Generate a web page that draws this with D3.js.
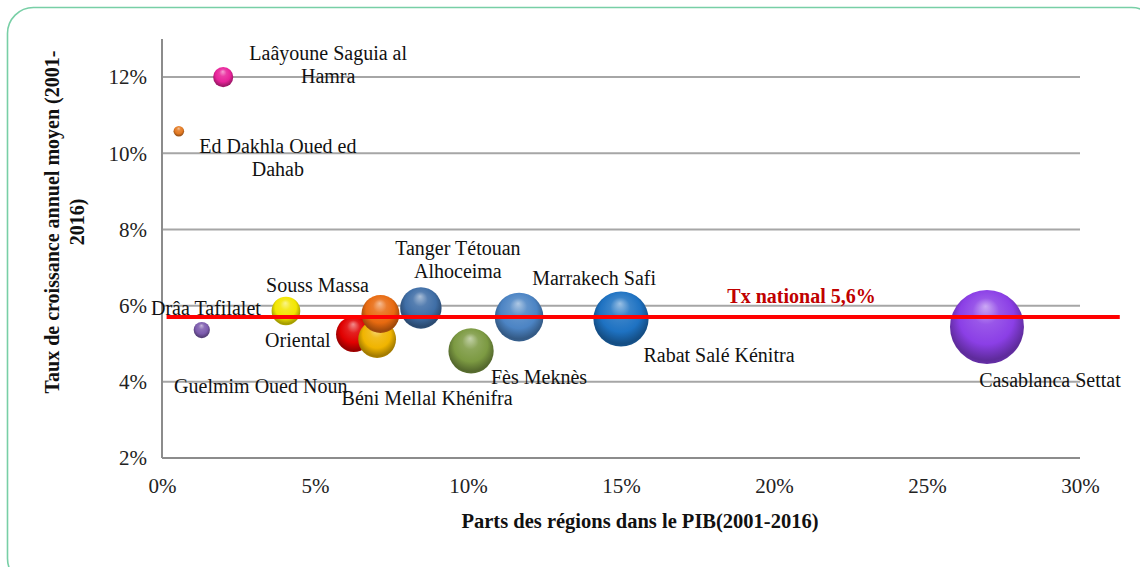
<!DOCTYPE html>
<html lang="fr">
<head>
  <meta charset="UTF-8" />
  <title>Parts des régions dans le PIB et croissance</title>
  <style>
    body {
      margin: 0;
      background: #fff;
    }

    text {
      font-family: 'Liberation Serif', 'DejaVu Serif', serif;
      fill: #111;
    }

    .grid line {
      stroke: #a6a6a6;
      stroke-width: 2px;
    }

    .axis path {
      stroke: #8c8c8c;
      stroke-width: 2px;
    }

    .axis text {
      font-size: 21px;
      fill: #222;
    }

    .region-label {
      font-size: 20px;
    }

    .axis-title {
      font-size: 20px;
      font-weight: bold;
    }
  </style>
  <script src="https://cdn.jsdelivr.net/npm/d3@7"></script>
</head>
<body>
  <svg></svg>

  <script>
    // data (x = part du PIB %, y = taux de croissance %)
    const regions = [
      'Laâyoune Saguia al Hamra',
      'Ed Dakhla Oued ed Dahab',
      'Guelmim Oued Noun',
      'Drâa Tafilalet',
      'Oriental',
      'Béni Mellal Khénifra',
      'Souss Massa',
      'Tanger Tétouan Alhoceima',
      'Fès Meknès',
      'Marrakech Safi',
      'Rabat Salé Kénitra',
      'Casablanca Settat'
    ];
    const parts = [2.0, 0.55, 1.3, 4.05, 6.27, 7.03, 7.14, 8.46, 10.1, 11.67, 15.0, 26.96];
    const growth = [12.0, 10.58, 5.36, 5.86, 5.25, 5.12, 5.78, 5.94, 4.81, 5.7, 5.65, 5.44];
    const colors = [
      '#e8239a', '#e47a22', '#7d5cae', '#f2e600', '#e00000', '#f0b400',
      '#e86a10', '#3f6ea6', '#7c9a42', '#4c84c4', '#1e72c2', '#8b3fe6'
    ];
    const labelLines = [
      ['Laâyoune Saguia al', 'Hamra'],
      ['Ed Dakhla Oued ed', 'Dahab'],
      ['Guelmim Oued Noun'],
      ['Drâa Tafilalet'],
      ['Oriental'],
      ['Béni Mellal Khénifra'],
      ['Souss Massa'],
      ['Tanger Tétouan', 'Alhoceima'],
      ['Fès Meknès'],
      ['Marrakech Safi'],
      ['Rabat Salé Kénitra'],
      ['Casablanca Settat']
    ];
    const xTicks = [0, 5, 10, 15, 20, 25, 30];
    const yTicks = [2, 4, 6, 8, 10, 12];
    const nationalRate = 5.7;
    const nationalLabel = 'Tx national 5,6%';
    const nationalSpan = [0.15, 31.3];

    // label placement (pixels, from bubble centre to first baseline centre)
    const labelOffsets = [
      [105, -17], [99, 22], [59, 63], [-80, 4], [-56, 13], [50, 66],
      [-63, -22], [37, -53], [68, 33], [75, -32], [98, 43], [63, 60]
    ];

    const width = 1140;
    const height = 567;
    const margin = { left: 162, right: 60, top: 39, bottom: 109 };

    const svg = d3.select('svg').attr('width', width).attr('height', height);

    // rounded frame
    svg
      .append('rect')
      .attr('x', 7.5)
      .attr('y', 7.5)
      .attr('width', width + 10)
      .attr('height', height + 10)
      .attr('rx', 26)
      .attr('fill', '#fff')
      .attr('stroke', '#78cfa6')
      .attr('stroke-width', 1.6);

    const x = d3
      .scaleLinear()
      .domain([0, 30])
      .range([margin.left, width - margin.right]);

    const y = d3
      .scaleLinear()
      .domain([2, 13])
      .range([height - margin.bottom, margin.top]);

    const r = d3.scaleSqrt().domain([0, 27]).range([0, 37]);

    // gridlines
    svg
      .append('g')
      .attr('class', 'grid')
      .selectAll('line')
      .data(yTicks.filter((d) => d > 2))
      .enter()
      .append('line')
      .attr('x1', x(0))
      .attr('x2', x(30))
      .attr('y1', (d) => y(d))
      .attr('y2', (d) => y(d));

    const fmt = (d) => d + '%';

    svg
      .append('g')
      .attr('class', 'axis')
      .attr('transform', `translate(0,${y(2)})`)
      .call(
        d3.axisBottom(x).tickValues(xTicks).tickFormat(fmt).tickSize(0).tickPadding(20)
      )
      .call((g) => g.select('.domain').attr('d', `M${x(0)},0H${x(30)}`));

    svg
      .append('g')
      .attr('class', 'axis')
      .attr('transform', `translate(${x(0)},0)`)
      .call(d3.axisLeft(y).tickValues(yTicks).tickFormat(fmt).tickSize(0).tickPadding(15))
      .call((g) => g.select('.domain').attr('d', `M0,${y(13)}V${y(2)}`));

    // sphere gradients
    const defs = svg.append('defs');
    colors.forEach((c, i) => {
      const grad = defs
        .append('radialGradient')
        .attr('id', `ball-${i}`)
        .attr('cx', '50%')
        .attr('cy', '45%')
        .attr('r', '60%')
        .attr('fx', '48%')
        .attr('fy', '22%');
      grad.append('stop').attr('offset', '0%').attr('stop-color', d3.interpolateRgb(c, '#fff')(0.55));
      grad.append('stop').attr('offset', '30%').attr('stop-color', d3.interpolateRgb(c, '#fff')(0.12));
      grad.append('stop').attr('offset', '62%').attr('stop-color', c);
      grad.append('stop').attr('offset', '88%').attr('stop-color', d3.color(c).darker(1.1));
      grad.append('stop').attr('offset', '100%').attr('stop-color', d3.color(c).darker(0.7));
    });

    const data = regions.map((name, i) => ({
      name,
      part: parts[i],
      growth: growth[i],
      i
    }));

    svg
      .append('g')
      .selectAll('circle')
      .data(data)
      .enter()
      .append('circle')
      .attr('cx', (d) => x(d.part))
      .attr('cy', (d) => y(d.growth))
      .attr('r', (d) => r(d.part))
      .attr('fill', (d) => `url(#ball-${d.i})`);

    // region labels
    const labels = svg
      .append('g')
      .selectAll('text')
      .data(data)
      .enter()
      .append('text')
      .attr('class', 'region-label')
      .attr('text-anchor', 'middle')
      .attr('x', (d) => x(d.part) + labelOffsets[d.i][0])
      .attr('y', (d) => y(d.growth) + labelOffsets[d.i][1]);

    labels
      .selectAll('tspan')
      .data((d) => labelLines[d.i].map((t) => ({ t, d })))
      .enter()
      .append('tspan')
      .attr('x', (l) => x(l.d.part) + labelOffsets[l.d.i][0])
      .attr('dy', (l, j) => (j === 0 ? 0 : 23))
      .text((l) => l.t);

    // national growth line
    svg
      .append('line')
      .attr('x1', x(nationalSpan[0]))
      .attr('x2', x(nationalSpan[1]))
      .attr('y1', y(nationalRate))
      .attr('y2', y(nationalRate))
      .attr('stroke', '#ff0000')
      .attr('stroke-width', 4);

    svg
      .append('text')
      .attr('x', x(20.9))
      .attr('y', y(nationalRate) - 14)
      .attr('text-anchor', 'middle')
      .style('font-size', '20px')
      .style('font-weight', 'bold')
      .style('fill', '#c00000')
      .text(nationalLabel);

    // axis titles
    svg
      .append('text')
      .attr('class', 'axis-title')
      .attr('x', 640)
      .attr('y', 528)
      .attr('text-anchor', 'middle')
      .style('font-size', '20.5px')
      .text('Parts des régions dans le PIB(2001-2016)');

    const yTitle = svg
      .append('text')
      .attr('class', 'axis-title')
      .attr('text-anchor', 'middle')
      .attr('transform', 'translate(59,222) rotate(-90)');
    yTitle.append('tspan').attr('x', 0).attr('y', 0).text('Taux de croissance annuel moyen (2001-');
    yTitle.append('tspan').attr('x', 0).attr('y', 25).text('2016)');
  </script>
</body>
</html>
